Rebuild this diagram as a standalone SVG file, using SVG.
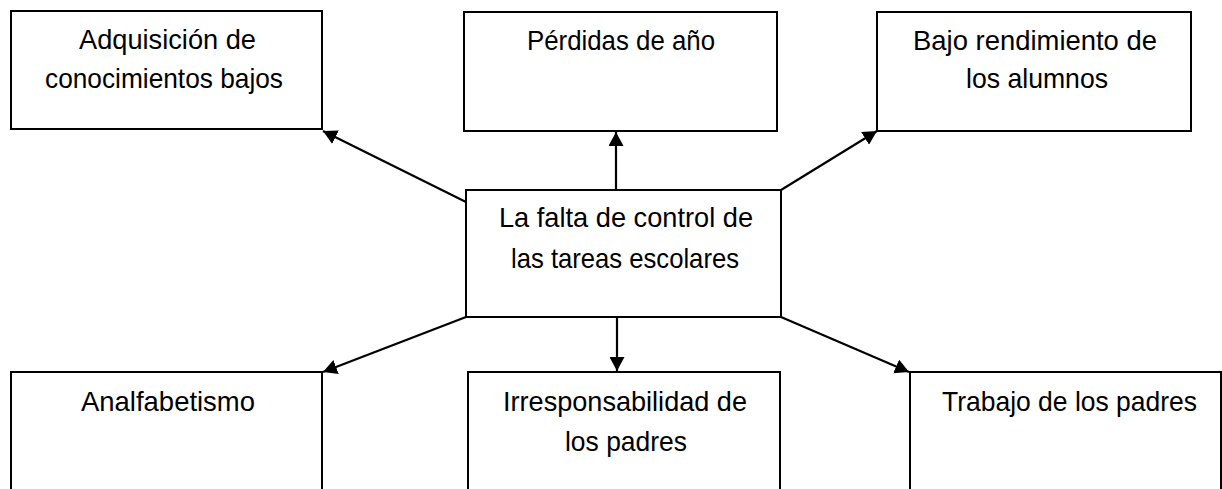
<svg xmlns="http://www.w3.org/2000/svg" width="1222" height="489" viewBox="0 0 1222 489">
<style>
.box{fill:#fff;stroke:#000;stroke-width:2}
.lbl{font-family:"Liberation Sans",Arial,sans-serif;font-size:28px;fill:#000;text-anchor:middle}
.con{stroke:#000;stroke-width:2.2;fill:none;marker-end:url(#ah)}
</style>
<defs>
<marker id="ah" markerUnits="userSpaceOnUse" markerWidth="15" markerHeight="15" refX="14" refY="7.5" orient="auto">
<path d="M0,0 L14,7.5 L0,15 z" fill="#000"/>
</marker>
</defs>
<rect width="1222" height="489" fill="#fff"/>
<g id="connectors">
<line class="con" x1="466" y1="202" x2="323" y2="131"/>
<line class="con" x1="616" y1="190" x2="616" y2="132"/>
<line class="con" x1="781" y1="190" x2="877" y2="131"/>
<line class="con" x1="466" y1="317" x2="323" y2="372"/>
<line class="con" x1="617" y1="317" x2="617" y2="371"/>
<line class="con" x1="781" y1="317" x2="909" y2="372"/>
</g>
<g id="n1">
<rect class="box" x="11" y="11" width="311" height="118"/>
<text class="lbl" x="167.5" y="49" textLength="177" lengthAdjust="spacingAndGlyphs">Adquisición de</text>
<text class="lbl" x="164" y="88" textLength="238" lengthAdjust="spacingAndGlyphs">conocimientos bajos</text>
</g>
<g id="n2">
<rect class="box" x="464" y="12" width="313" height="119"/>
<text class="lbl" x="621" y="50" textLength="188" lengthAdjust="spacingAndGlyphs">Pérdidas de año</text>
</g>
<g id="n3">
<rect class="box" x="877" y="12" width="314" height="119"/>
<text class="lbl" x="1035" y="50" textLength="244" lengthAdjust="spacingAndGlyphs">Bajo rendimiento de</text>
<text class="lbl" x="1037" y="88" textLength="142" lengthAdjust="spacingAndGlyphs">los alumnos</text>
</g>
<g id="n4">
<rect class="box" x="466" y="190" width="315" height="127"/>
<text class="lbl" x="626" y="227" textLength="254" lengthAdjust="spacingAndGlyphs">La falta de control de</text>
<text class="lbl" x="625" y="268" textLength="228" lengthAdjust="spacingAndGlyphs">las tareas escolares</text>
</g>
<g id="n5">
<rect class="box" x="11" y="372" width="311" height="130"/>
<text class="lbl" x="168" y="411" textLength="174" lengthAdjust="spacingAndGlyphs">Analfabetismo</text>
</g>
<g id="n6">
<rect class="box" x="468" y="372" width="312" height="130"/>
<text class="lbl" x="625" y="411" textLength="244" lengthAdjust="spacingAndGlyphs">Irresponsabilidad de</text>
<text class="lbl" x="626" y="451" textLength="122" lengthAdjust="spacingAndGlyphs">los padres</text>
</g>
<g id="n7">
<rect class="box" x="910" y="372" width="311" height="130"/>
<text class="lbl" x="1069.5" y="411" textLength="255" lengthAdjust="spacingAndGlyphs">Trabajo de los padres</text>
</g>
</svg>
